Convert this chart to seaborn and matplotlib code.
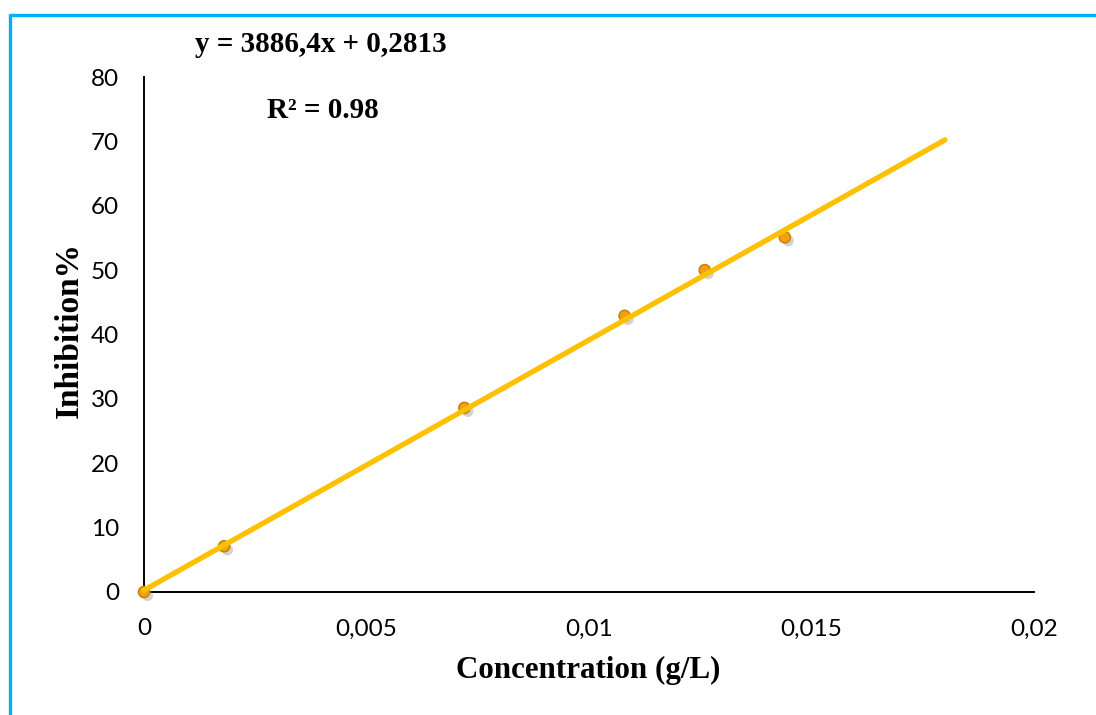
import numpy as np
import pandas as pd
import matplotlib
matplotlib.use("Agg")
import matplotlib.pyplot as plt
import matplotlib.patheffects as pe
from matplotlib.lines import Line2D
import seaborn as sns

# Measured inhibition versus concentration
concentration = [0.0, 0.0018, 0.0072, 0.0108, 0.0126, 0.0144]
inhibition = [0.0, 7.1, 28.6, 42.9, 50.0, 55.1]

# Linear trendline coefficients and fitted range
slope = 3886.4
intercept = 0.2813
r_squared = 0.98
fit_range = [0.0, 0.018]

x_ticks = [0, 0.005, 0.01, 0.015, 0.02]
x_tick_labels = ["0", "0,005", "0,01", "0,015", "0,02"]
y_ticks = [0, 10, 20, 30, 40, 50, 60, 70, 80]

sns.set_theme(style="white")
plt.rcParams["font.family"] = ["Lato", "DejaVu Sans"]
plt.rcParams["text.color"] = "black"
plt.rcParams["axes.labelcolor"] = "black"

df = pd.DataFrame({"Concentration": concentration, "Inhibition": inhibition})
fit_x = np.array(fit_range)
fit_df = pd.DataFrame({"x": fit_x, "y": slope * fit_x + intercept})

fig = plt.figure(figsize=(10.96, 7.15), dpi=100)
ax = fig.add_axes([144 / 1096, 1 - 592 / 715, 890 / 1096, 515 / 715])

sns.scatterplot(
    data=df, x="Concentration", y="Inhibition", ax=ax,
    s=65, color="#F0A010", edgecolor="#C27F00", linewidth=1.0, zorder=3,
    clip_on=False,
)
for coll in ax.collections:
    coll.set_path_effects([
        pe.SimplePatchShadow(offset=(2.5, -2.5), shadow_rgbFace="#808080", alpha=0.35),
        pe.Normal(),
    ])

sns.lineplot(data=fit_df, x="x", y="y", ax=ax, color="#FFC000", linewidth=3.8,
             solid_capstyle="round", zorder=4, clip_on=False)

ax.set_xlim(0, 0.02)
ax.set_ylim(0, 80)
ax.set_xticks(x_ticks)
ax.set_xticklabels(x_tick_labels)
ax.set_yticks(y_ticks)
ax.tick_params(axis="both", length=0, labelsize=17.5, colors="black")
ax.tick_params(axis="x", pad=19)
ax.tick_params(axis="y", pad=18)

for side in ["top", "right"]:
    ax.spines[side].set_visible(False)
for side in ["left", "bottom"]:
    ax.spines[side].set_color("black")
    ax.spines[side].set_linewidth(1.4)

serif = ["Liberation Serif", "DejaVu Serif"]
ax.set_xlabel("Concentration (g/L)", fontsize=22.3, fontweight="bold", family=serif)
ax.set_ylabel("Inhibition%", fontsize=24, fontweight="bold", family=serif)
ax.xaxis.set_label_coords(588 / 1096, 1 - 670 / 715, transform=fig.transFigure)
ax.yaxis.set_label_coords(69 / 1096, 1 - 330 / 715, transform=fig.transFigure)
ax.xaxis.label.set_va("center")
ax.yaxis.label.set_va("center")

fig.text(321 / 1096, 1 - 45 / 715, f"y = {slope:g}x + {intercept:g}".replace(".", ","),
         ha="center", va="center", fontsize=21, fontweight="bold", family=serif)
fig.text(323 / 1096, 1 - 110 / 715, f"R² = {r_squared:.2f}",
         ha="center", va="center", fontsize=21, fontweight="bold", family=serif)

# Frame lines along the top and left edges of the figure
fig.add_artist(Line2D([9.5 / 1096, 1.0], [1 - 14.5 / 715, 1 - 14.5 / 715],
                      transform=fig.transFigure, color="#00B0F0", linewidth=2.4))
fig.add_artist(Line2D([9.5 / 1096, 9.5 / 1096], [0.0, 1 - 14.5 / 715],
                      transform=fig.transFigure, color="#00B0F0", linewidth=2.4))

fig.savefig("out.png", dpi=100)
